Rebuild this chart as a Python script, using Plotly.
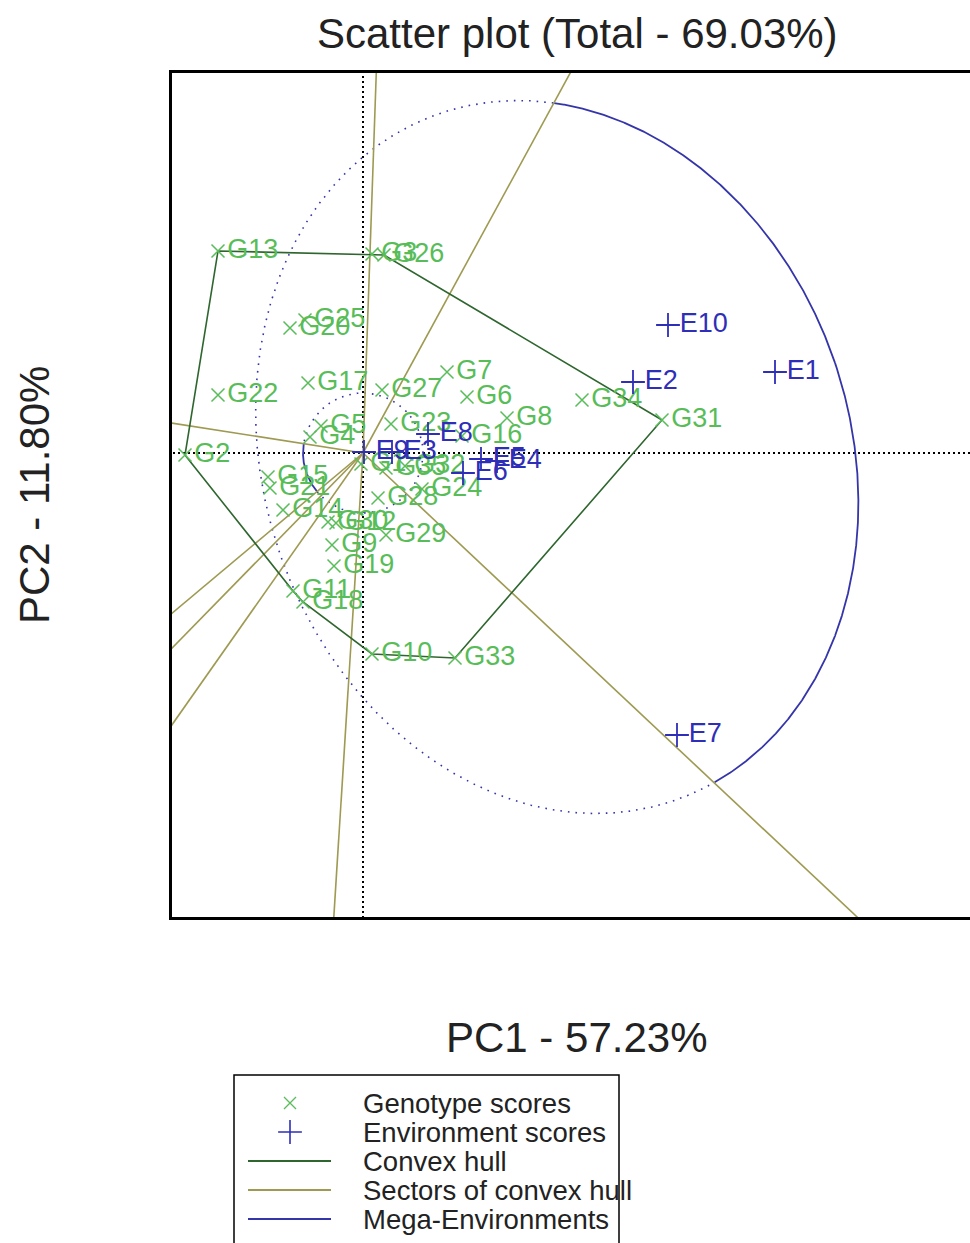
import numpy as np
import plotly.graph_objects as go

# ---------------- data ----------------
geno_names = ["G1", "G2", "G3", "G4", "G5", "G6", "G7", "G8", "G9", "G10",
              "G11", "G12", "G13", "G14", "G15", "G16", "G17", "G18", "G19", "G20",
              "G21", "G22", "G23", "G24", "G25", "G26", "G27", "G28", "G29", "G30",
              "G31", "G32", "G33", "G34", "G35"]
geno_pc1 = [-0.02, -1.78, 0.09, -0.53, -0.42, 1.04, 0.84, 1.44, -0.31, 0.09,
            -0.70, -0.27, -1.45, -0.80, -0.95, 0.99, -0.55, -0.60, -0.29, -0.73,
            -0.93, -1.45, 0.28, 0.59, -0.58, 0.21, 0.19, 0.15, 0.23, -0.35,
            2.99, 0.42, 0.92, 2.19, 0.23]
geno_pc2 = [-0.11, -0.02, 1.99, 0.16, 0.27, 0.56, 0.81, 0.35, -0.92, -2.01,
            -1.38, -0.70, 2.02, -0.57, -0.24, 0.17, 0.70, -1.49, -1.13, 1.25,
            -0.35, 0.58, 0.29, -0.36, 1.33, 1.98, 0.63, -0.45, -0.82, -0.69,
            0.33, -0.13, -2.05, 0.53, -0.15]

env_names = ["E1", "E2", "E3", "E4", "E5", "E6", "E7", "E8", "E9", "E10"]
env_pc1 = [4.12, 2.70, 0.29, 1.34, 1.18, 1.00, 3.14, 0.65, 0.01, 3.05]
env_pc2 = [0.81, 0.71, 0.01, -0.08, -0.06, -0.20, -2.82, 0.19, 0.01, 1.28]

hull_vertices = ["G13", "G26", "G31", "G33", "G10", "G18", "G11", "G2"]
sector_angles = [88.0, 61.4, -43.2, 266.4, 234.9, 225.6, 220.0, 171.1]

# mega-environment outlines: centre, semi-axes, tilt, and sector where drawn solid
mega_cx = [1.94, 0.0]
mega_cy = [-0.04, 0.0]
mega_a = [2.935, 0.60]     # semi-axis along tilt direction
mega_b = [3.63, 0.60]      # semi-axis perpendicular to tilt direction
mega_tilt = [18.7, 0.0]
mega_from = [-43.2, 171.1]
mega_to = [61.4, 220.0]

title_text = "Scatter plot (Total - 69.03%)"
x_label = "PC1 - 57.23%"
y_label = "PC2 - 11.80%"
legend_labels = ["Genotype scores", "Environment scores", "Convex hull",
                 "Sectors of convex hull", "Mega-Environments"]

# ---------------- styling ----------------
W, H = 970, 1243
GREEN = "#58bd58"
BLUE = "#2e2eb8"
HULL = "#2f662f"
SECT = "#9e9a52"
MEGA = "#3535aa"
FONT = "Liberation Sans, Arial, Helvetica, sans-serif"
X_RANGE = [-1.91, 6.07]
Y_RANGE = [-4.64, 3.80]

fig = go.Figure()

# axes through origin (dotted)
fig.add_trace(go.Scatter(x=[0, 0, None, -20, 20], y=[-20, 20, None, 0, 0],
                         mode="lines", line=dict(color="black", width=2, dash="2px,3px"),
                         hoverinfo="skip", showlegend=False))

# mega-environment ellipses
def in_range(th, a, b):
    return ((th - a) % 360) <= ((b - a) % 360)

t = np.linspace(0, 2 * np.pi, 2400)
for cx, cy, a, b, tilt, f, to in zip(mega_cx, mega_cy, mega_a, mega_b, mega_tilt, mega_from, mega_to):
    ph = np.radians(tilt)
    ex = cx + a * np.cos(t) * np.cos(ph) - b * np.sin(t) * np.sin(ph)
    ey = cy + a * np.cos(t) * np.sin(ph) + b * np.sin(t) * np.cos(ph)
    th = np.degrees(np.arctan2(ey, ex))
    solid = np.array([in_range(v, f, to) for v in th])
    xs = np.where(solid, ex, np.nan)
    ys = np.where(solid, ey, np.nan)
    xd = np.where(~solid, ex, np.nan)
    yd = np.where(~solid, ey, np.nan)
    fig.add_trace(go.Scatter(x=xd, y=yd, mode="lines",
                             line=dict(color=MEGA, width=1.6, dash="1.6px,6px"),
                             hoverinfo="skip", showlegend=False, connectgaps=False))
    fig.add_trace(go.Scatter(x=xs, y=ys, mode="lines",
                             line=dict(color=MEGA, width=1.8),
                             hoverinfo="skip", showlegend=False, connectgaps=False))

# sectors (rays from the origin)
rx, ry = [], []
for ang in sector_angles:
    r = np.radians(ang)
    rx += [0, 30 * np.cos(r), None]
    ry += [0, 30 * np.sin(r), None]
fig.add_trace(go.Scatter(x=rx, y=ry, mode="lines", line=dict(color=SECT, width=1.6),
                         hoverinfo="skip", showlegend=False))

# convex hull
idx = [geno_names.index(n) for n in hull_vertices] + [geno_names.index(hull_vertices[0])]
fig.add_trace(go.Scatter(x=[geno_pc1[i] for i in idx], y=[geno_pc2[i] for i in idx],
                         mode="lines", line=dict(color=HULL, width=1.6),
                         hoverinfo="skip", showlegend=False))

# genotypes
fig.add_trace(go.Scatter(x=geno_pc1, y=geno_pc2, mode="markers+text", text=geno_names,
                         textposition="middle right",
                         textfont=dict(family=FONT, size=27, color=GREEN),
                         marker=dict(symbol="x-thin", size=13, color=GREEN,
                                     line=dict(color=GREEN, width=1.5)),
                         showlegend=False))
# environments
fig.add_trace(go.Scatter(x=env_pc1, y=env_pc2, mode="markers+text", text=env_names,
                         textposition="middle right",
                         textfont=dict(family=FONT, size=27, color=BLUE),
                         marker=dict(symbol="cross-thin", size=17, color=BLUE,
                                     line=dict(color=BLUE, width=1.8)),
                         showlegend=False))

# ---------------- hand-drawn legend (in its own pixel-unit axes) ----------------
rows = [1103, 1132, 1161, 1190, 1219]
fig.add_trace(go.Scatter(x=[290], y=[rows[0]], xaxis="x2", yaxis="y2", mode="markers",
                         marker=dict(symbol="x-thin", size=12, color=GREEN,
                                     line=dict(color=GREEN, width=1.3)),
                         hoverinfo="skip", showlegend=False))
fig.add_trace(go.Scatter(x=[290], y=[rows[1]], xaxis="x2", yaxis="y2", mode="markers",
                         marker=dict(symbol="cross-thin", size=17, color=BLUE,
                                     line=dict(color=BLUE, width=1.6)),
                         hoverinfo="skip", showlegend=False))
for yy, col in zip(rows[2:], [HULL, SECT, MEGA]):
    fig.add_trace(go.Scatter(x=[248, 331], y=[yy, yy], xaxis="x2", yaxis="y2", mode="lines",
                             line=dict(color=col, width=1.8), hoverinfo="skip", showlegend=False))

annotations = []
for yy, lab in zip(rows, legend_labels):
    annotations.append(dict(x=361 / W, y=1 - yy / H, xref="paper", yref="paper", text=lab,
                            showarrow=False, xanchor="left", yanchor="middle",
                            font=dict(family=FONT, size=27.5, color="#222222")))
annotations.append(dict(x=577 / W, y=1 - 33 / H, xref="paper", yref="paper", text=title_text,
                        showarrow=False, xanchor="center", yanchor="middle",
                        font=dict(family=FONT, size=42, color="#222222")))
annotations.append(dict(x=576 / W, y=1 - 1037 / H, xref="paper", yref="paper", text=x_label,
                        showarrow=False, xanchor="center", yanchor="middle",
                        font=dict(family=FONT, size=42, color="#222222")))
annotations.append(dict(x=35 / W, y=1 - 495 / H, xref="paper", yref="paper", text=y_label,
                        showarrow=False, xanchor="center", yanchor="middle", textangle=-90,
                        font=dict(family=FONT, size=42, color="#222222")))

shapes = [dict(type="rect", xref="paper", yref="paper", x0=234 / W, x1=619 / W,
               y0=-0.02, y1=1 - 1075 / H, line=dict(color="black", width=1.5))]

fig.update_layout(
    width=W, height=H, margin=dict(l=0, r=0, t=0, b=0),
    paper_bgcolor="white", plot_bgcolor="white",
    xaxis=dict(domain=[172 / W, 1.0], range=X_RANGE, showgrid=False, zeroline=False,
               showticklabels=False, ticks="", showline=True, mirror=True,
               linecolor="black", linewidth=3),
    yaxis=dict(domain=[1 - 917 / H, 1 - 73 / H], range=Y_RANGE, showgrid=False, zeroline=False,
               showticklabels=False, ticks="", showline=True, mirror=False,
               linecolor="black", linewidth=3),
    xaxis2=dict(domain=[234 / W, 619 / W], range=[234, 619], visible=False, anchor="y2"),
    yaxis2=dict(domain=[0, 1 - 1075 / H], range=[1243, 1075], visible=False, anchor="x2"),
    annotations=annotations, shapes=shapes, showlegend=False,
)

fig.write_html("out.html", config={"displayModeBar": False},
               post_script="document.body.style.margin='0';document.body.style.overflow='hidden';")
